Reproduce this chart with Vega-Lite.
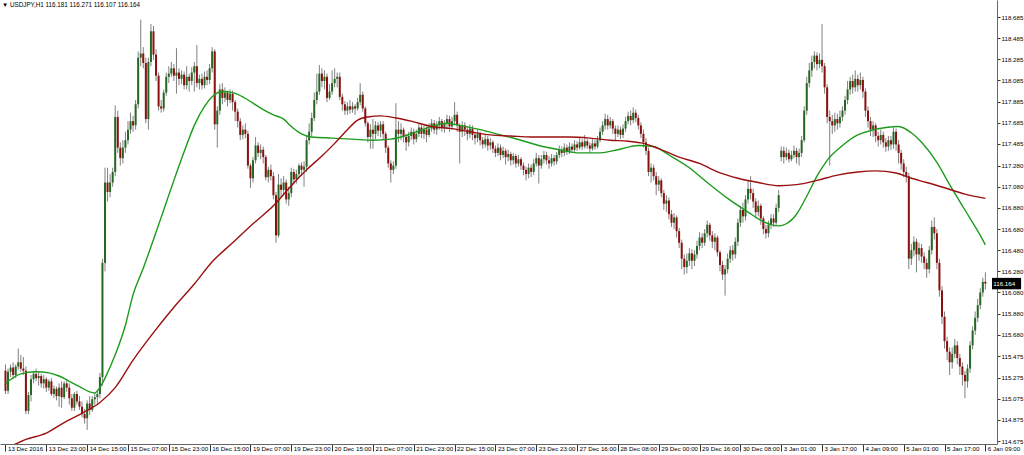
{
"$schema":"https://vega.github.io/schema/vega-lite/v6.json",
"width":997,"height":444,
"autosize":{"type":"none"},
"padding":{"left":0,"top":0,"right":27,"bottom":11},
"background":"white",
"config":{"view":{"stroke":null},"axis":{"grid":false,"labelOverlap":false,"labelFlush":false,"labelBound":false},"font":"Liberation Sans"},
"title":{"text":"▼  USDJPY,H1  116.181 116.271 116.107 116.164","anchor":"start","frame":"group","offset":-8,"fontSize":6.3,"fontWeight":"normal","font":"Liberation Sans","color":"#000","dx":2},
"datasets":{
"candles":[
{"i":0,"o":115.34,"h":115.40,"l":115.12,"c":115.15},
{"i":1,"o":115.15,"h":115.36,"l":115.12,"c":115.33},
{"i":2,"o":115.33,"h":115.40,"l":115.28,"c":115.37},
{"i":3,"o":115.37,"h":115.42,"l":115.26,"c":115.30},
{"i":4,"o":115.30,"h":115.40,"l":115.27,"c":115.38},
{"i":5,"o":115.38,"h":115.55,"l":115.35,"c":115.42},
{"i":6,"o":115.42,"h":115.49,"l":115.33,"c":115.36},
{"i":7,"o":115.36,"h":115.47,"l":115.30,"c":115.34},
{"i":8,"o":115.34,"h":115.38,"l":114.93,"c":114.96},
{"i":9,"o":114.96,"h":115.14,"l":114.93,"c":115.11},
{"i":10,"o":115.11,"h":115.30,"l":115.05,"c":115.26},
{"i":11,"o":115.26,"h":115.34,"l":115.22,"c":115.31},
{"i":12,"o":115.31,"h":115.36,"l":115.24,"c":115.27},
{"i":13,"o":115.27,"h":115.33,"l":115.20,"c":115.29},
{"i":14,"o":115.29,"h":115.31,"l":115.18,"c":115.22},
{"i":15,"o":115.22,"h":115.30,"l":115.17,"c":115.26},
{"i":16,"o":115.26,"h":115.28,"l":115.14,"c":115.18},
{"i":17,"o":115.18,"h":115.26,"l":115.15,"c":115.24},
{"i":18,"o":115.24,"h":115.27,"l":115.10,"c":115.12},
{"i":19,"o":115.12,"h":115.20,"l":115.08,"c":115.17},
{"i":20,"o":115.17,"h":115.19,"l":115.06,"c":115.10},
{"i":21,"o":115.10,"h":115.22,"l":115.00,"c":115.18},
{"i":22,"o":115.18,"h":115.24,"l":114.99,"c":115.09},
{"i":23,"o":115.09,"h":115.24,"l":115.07,"c":115.22},
{"i":24,"o":115.22,"h":115.26,"l":115.14,"c":115.18},
{"i":25,"o":115.18,"h":115.22,"l":115.02,"c":115.08},
{"i":26,"o":115.08,"h":115.12,"l":114.96,"c":114.99},
{"i":27,"o":114.99,"h":115.14,"l":114.96,"c":115.12},
{"i":28,"o":115.12,"h":115.15,"l":115.02,"c":115.05},
{"i":29,"o":115.05,"h":115.10,"l":114.97,"c":115.00},
{"i":30,"o":115.00,"h":115.05,"l":114.90,"c":114.93},
{"i":31,"o":114.93,"h":114.98,"l":114.84,"c":114.89},
{"i":32,"o":114.89,"h":115.06,"l":114.78,"c":115.03},
{"i":33,"o":115.03,"h":115.10,"l":114.92,"c":114.97},
{"i":34,"o":114.97,"h":115.10,"l":114.95,"c":115.07},
{"i":35,"o":115.07,"h":115.13,"l":115.02,"c":115.09},
{"i":36,"o":115.09,"h":115.15,"l":115.03,"c":115.12},
{"i":37,"o":115.12,"h":115.32,"l":115.08,"c":115.28},
{"i":38,"o":115.28,"h":116.40,"l":115.20,"c":116.36},
{"i":39,"o":116.36,"h":117.26,"l":116.28,"c":117.12},
{"i":40,"o":117.12,"h":117.26,"l":116.94,"c":117.03},
{"i":41,"o":117.03,"h":117.20,"l":116.98,"c":117.12},
{"i":42,"o":117.12,"h":117.26,"l":117.08,"c":117.22},
{"i":43,"o":117.22,"h":117.85,"l":117.18,"c":117.74},
{"i":44,"o":117.74,"h":117.80,"l":117.40,"c":117.45},
{"i":45,"o":117.45,"h":117.50,"l":117.28,"c":117.35},
{"i":46,"o":117.35,"h":117.52,"l":117.30,"c":117.45},
{"i":47,"o":117.45,"h":117.60,"l":117.40,"c":117.52},
{"i":48,"o":117.52,"h":117.70,"l":117.48,"c":117.62},
{"i":49,"o":117.62,"h":117.78,"l":117.58,"c":117.70},
{"i":50,"o":117.70,"h":117.75,"l":117.60,"c":117.66},
{"i":51,"o":117.66,"h":117.90,"l":117.62,"c":117.86},
{"i":52,"o":117.86,"h":118.36,"l":117.82,"c":118.30},
{"i":53,"o":118.30,"h":118.66,"l":118.22,"c":118.34},
{"i":54,"o":118.34,"h":118.40,"l":118.20,"c":118.25},
{"i":55,"o":118.25,"h":118.30,"l":117.68,"c":117.72},
{"i":56,"o":117.72,"h":118.30,"l":117.62,"c":118.26},
{"i":57,"o":118.26,"h":118.62,"l":118.22,"c":118.55},
{"i":58,"o":118.55,"h":118.60,"l":118.28,"c":118.33},
{"i":59,"o":118.33,"h":118.38,"l":118.08,"c":118.13},
{"i":60,"o":118.13,"h":118.16,"l":117.80,"c":117.84},
{"i":61,"o":117.84,"h":117.90,"l":117.78,"c":117.82},
{"i":62,"o":117.82,"h":118.00,"l":117.79,"c":117.97},
{"i":63,"o":117.97,"h":118.16,"l":117.94,"c":118.12},
{"i":64,"o":118.12,"h":118.22,"l":118.06,"c":118.15},
{"i":65,"o":118.15,"h":118.26,"l":118.12,"c":118.20},
{"i":66,"o":118.20,"h":118.24,"l":118.08,"c":118.13},
{"i":67,"o":118.13,"h":118.39,"l":117.96,"c":118.16},
{"i":68,"o":118.16,"h":118.20,"l":118.04,"c":118.10},
{"i":69,"o":118.10,"h":118.18,"l":118.05,"c":118.14},
{"i":70,"o":118.14,"h":118.17,"l":118.00,"c":118.04},
{"i":71,"o":118.04,"h":118.22,"l":118.00,"c":118.12},
{"i":72,"o":118.12,"h":118.15,"l":117.98,"c":118.08},
{"i":73,"o":118.08,"h":118.21,"l":118.04,"c":118.16},
{"i":74,"o":118.16,"h":118.26,"l":117.98,"c":118.22},
{"i":75,"o":118.22,"h":118.42,"l":118.02,"c":118.06},
{"i":76,"o":118.06,"h":118.14,"l":118.00,"c":118.10},
{"i":77,"o":118.10,"h":118.15,"l":118.00,"c":118.04},
{"i":78,"o":118.04,"h":118.17,"l":118.01,"c":118.12},
{"i":79,"o":118.12,"h":118.18,"l":118.04,"c":118.09},
{"i":80,"o":118.09,"h":118.24,"l":118.05,"c":118.20},
{"i":81,"o":118.20,"h":118.40,"l":118.16,"c":118.36},
{"i":82,"o":118.36,"h":118.38,"l":117.62,"c":117.67},
{"i":83,"o":117.67,"h":117.84,"l":117.45,"c":117.80},
{"i":84,"o":117.80,"h":118.05,"l":117.76,"c":118.00},
{"i":85,"o":118.00,"h":118.06,"l":117.86,"c":117.92},
{"i":86,"o":117.92,"h":118.02,"l":117.88,"c":117.97},
{"i":87,"o":117.97,"h":117.99,"l":117.84,"c":117.90},
{"i":88,"o":117.90,"h":118.00,"l":117.87,"c":117.96},
{"i":89,"o":117.96,"h":117.99,"l":117.80,"c":117.88},
{"i":90,"o":117.88,"h":117.90,"l":117.70,"c":117.79},
{"i":91,"o":117.79,"h":117.82,"l":117.64,"c":117.70},
{"i":92,"o":117.70,"h":117.73,"l":117.52,"c":117.57},
{"i":93,"o":117.57,"h":117.66,"l":117.53,"c":117.62},
{"i":94,"o":117.62,"h":117.68,"l":117.54,"c":117.58},
{"i":95,"o":117.58,"h":117.61,"l":117.25,"c":117.28},
{"i":96,"o":117.28,"h":117.30,"l":117.07,"c":117.16},
{"i":97,"o":117.16,"h":117.36,"l":117.12,"c":117.33},
{"i":98,"o":117.33,"h":117.55,"l":117.30,"c":117.47},
{"i":99,"o":117.47,"h":117.50,"l":117.36,"c":117.40},
{"i":100,"o":117.40,"h":117.48,"l":117.34,"c":117.43},
{"i":101,"o":117.43,"h":117.46,"l":117.30,"c":117.36},
{"i":102,"o":117.36,"h":117.38,"l":117.14,"c":117.17},
{"i":103,"o":117.17,"h":117.27,"l":117.12,"c":117.24},
{"i":104,"o":117.24,"h":117.29,"l":117.14,"c":117.18},
{"i":105,"o":117.18,"h":117.22,"l":116.96,"c":117.00},
{"i":106,"o":117.00,"h":117.03,"l":116.55,"c":116.62},
{"i":107,"o":116.62,"h":117.20,"l":116.60,"c":117.10},
{"i":108,"o":117.10,"h":117.16,"l":116.98,"c":117.05},
{"i":109,"o":117.05,"h":117.18,"l":117.00,"c":117.12},
{"i":110,"o":117.12,"h":117.15,"l":116.92,"c":116.96},
{"i":111,"o":116.96,"h":117.08,"l":116.90,"c":117.02},
{"i":112,"o":117.02,"h":117.26,"l":116.98,"c":117.22},
{"i":113,"o":117.22,"h":117.25,"l":117.10,"c":117.15},
{"i":114,"o":117.15,"h":117.24,"l":117.11,"c":117.20},
{"i":115,"o":117.20,"h":117.30,"l":117.16,"c":117.28},
{"i":116,"o":117.28,"h":117.31,"l":117.18,"c":117.24},
{"i":117,"o":117.24,"h":117.32,"l":117.08,"c":117.27},
{"i":118,"o":117.27,"h":117.56,"l":117.22,"c":117.52},
{"i":119,"o":117.52,"h":117.68,"l":117.48,"c":117.60},
{"i":120,"o":117.60,"h":117.78,"l":117.56,"c":117.73},
{"i":121,"o":117.73,"h":117.97,"l":117.70,"c":117.90},
{"i":122,"o":117.90,"h":118.15,"l":117.86,"c":117.98},
{"i":123,"o":117.98,"h":118.23,"l":117.95,"c":118.15},
{"i":124,"o":118.15,"h":118.20,"l":118.02,"c":118.08},
{"i":125,"o":118.08,"h":118.18,"l":118.00,"c":118.12},
{"i":126,"o":118.12,"h":118.15,"l":117.88,"c":117.92},
{"i":127,"o":117.92,"h":118.05,"l":117.90,"c":117.98},
{"i":128,"o":117.98,"h":118.18,"l":117.95,"c":118.06},
{"i":129,"o":118.06,"h":118.20,"l":118.02,"c":118.10},
{"i":130,"o":118.10,"h":118.16,"l":118.02,"c":118.12},
{"i":131,"o":118.12,"h":118.16,"l":117.90,"c":117.93},
{"i":132,"o":117.93,"h":117.96,"l":117.80,"c":117.86},
{"i":133,"o":117.86,"h":117.89,"l":117.76,"c":117.80},
{"i":134,"o":117.80,"h":117.88,"l":117.76,"c":117.84},
{"i":135,"o":117.84,"h":117.90,"l":117.77,"c":117.81},
{"i":136,"o":117.81,"h":117.88,"l":117.78,"c":117.84},
{"i":137,"o":117.84,"h":117.86,"l":117.76,"c":117.82},
{"i":138,"o":117.82,"h":117.92,"l":117.80,"c":117.88},
{"i":139,"o":117.88,"h":118.06,"l":117.85,"c":117.95},
{"i":140,"o":117.95,"h":117.98,"l":117.79,"c":117.82},
{"i":141,"o":117.82,"h":117.84,"l":117.65,"c":117.68},
{"i":142,"o":117.68,"h":117.70,"l":117.50,"c":117.55},
{"i":143,"o":117.55,"h":117.67,"l":117.44,"c":117.62},
{"i":144,"o":117.62,"h":117.72,"l":117.44,"c":117.58},
{"i":145,"o":117.58,"h":117.70,"l":117.53,"c":117.66},
{"i":146,"o":117.66,"h":117.69,"l":117.56,"c":117.61},
{"i":147,"o":117.61,"h":117.70,"l":117.55,"c":117.67},
{"i":148,"o":117.67,"h":117.70,"l":117.52,"c":117.58},
{"i":149,"o":117.58,"h":117.60,"l":117.40,"c":117.45},
{"i":150,"o":117.45,"h":117.47,"l":117.26,"c":117.30},
{"i":151,"o":117.30,"h":117.33,"l":117.12,"c":117.24},
{"i":152,"o":117.24,"h":117.32,"l":117.20,"c":117.28},
{"i":153,"o":117.28,"h":117.87,"l":117.25,"c":117.62},
{"i":154,"o":117.62,"h":117.70,"l":117.50,"c":117.58},
{"i":155,"o":117.58,"h":117.68,"l":117.52,"c":117.62},
{"i":156,"o":117.62,"h":117.64,"l":117.50,"c":117.55},
{"i":157,"o":117.55,"h":117.58,"l":117.42,"c":117.50},
{"i":158,"o":117.50,"h":117.60,"l":117.46,"c":117.56},
{"i":159,"o":117.56,"h":117.64,"l":117.52,"c":117.60},
{"i":160,"o":117.60,"h":117.63,"l":117.48,"c":117.53},
{"i":161,"o":117.53,"h":117.62,"l":117.50,"c":117.58},
{"i":162,"o":117.58,"h":117.68,"l":117.55,"c":117.64},
{"i":163,"o":117.64,"h":117.67,"l":117.54,"c":117.58},
{"i":164,"o":117.58,"h":117.66,"l":117.53,"c":117.62},
{"i":165,"o":117.62,"h":117.65,"l":117.50,"c":117.57},
{"i":166,"o":117.57,"h":117.68,"l":117.55,"c":117.63},
{"i":167,"o":117.63,"h":117.72,"l":117.60,"c":117.68},
{"i":168,"o":117.68,"h":117.71,"l":117.58,"c":117.62},
{"i":169,"o":117.62,"h":117.70,"l":117.57,"c":117.66},
{"i":170,"o":117.66,"h":117.74,"l":117.62,"c":117.70},
{"i":171,"o":117.70,"h":117.72,"l":117.60,"c":117.64},
{"i":172,"o":117.64,"h":117.71,"l":117.59,"c":117.68},
{"i":173,"o":117.68,"h":117.76,"l":117.63,"c":117.72},
{"i":174,"o":117.72,"h":117.75,"l":117.60,"c":117.65},
{"i":175,"o":117.65,"h":117.74,"l":117.62,"c":117.70},
{"i":176,"o":117.70,"h":117.88,"l":117.66,"c":117.76},
{"i":177,"o":117.76,"h":117.79,"l":117.60,"c":117.66},
{"i":178,"o":117.66,"h":117.68,"l":117.30,"c":117.60},
{"i":179,"o":117.60,"h":117.70,"l":117.55,"c":117.66},
{"i":180,"o":117.66,"h":117.69,"l":117.56,"c":117.62},
{"i":181,"o":117.62,"h":117.65,"l":117.52,"c":117.58},
{"i":182,"o":117.58,"h":117.67,"l":117.54,"c":117.63},
{"i":183,"o":117.63,"h":117.66,"l":117.52,"c":117.57},
{"i":184,"o":117.57,"h":117.60,"l":117.48,"c":117.54},
{"i":185,"o":117.54,"h":117.62,"l":117.50,"c":117.58},
{"i":186,"o":117.58,"h":117.60,"l":117.47,"c":117.52},
{"i":187,"o":117.52,"h":117.55,"l":117.44,"c":117.48},
{"i":188,"o":117.48,"h":117.57,"l":117.45,"c":117.53},
{"i":189,"o":117.53,"h":117.56,"l":117.42,"c":117.47},
{"i":190,"o":117.47,"h":117.54,"l":117.43,"c":117.50},
{"i":191,"o":117.50,"h":117.52,"l":117.40,"c":117.44},
{"i":192,"o":117.44,"h":117.47,"l":117.36,"c":117.40},
{"i":193,"o":117.40,"h":117.49,"l":117.37,"c":117.45},
{"i":194,"o":117.45,"h":117.48,"l":117.33,"c":117.38},
{"i":195,"o":117.38,"h":117.46,"l":117.35,"c":117.42},
{"i":196,"o":117.42,"h":117.44,"l":117.29,"c":117.36},
{"i":197,"o":117.36,"h":117.43,"l":117.32,"c":117.39},
{"i":198,"o":117.39,"h":117.41,"l":117.28,"c":117.33},
{"i":199,"o":117.33,"h":117.40,"l":117.29,"c":117.37},
{"i":200,"o":117.37,"h":117.39,"l":117.26,"c":117.30},
{"i":201,"o":117.30,"h":117.38,"l":117.27,"c":117.34},
{"i":202,"o":117.34,"h":117.36,"l":117.24,"c":117.28},
{"i":203,"o":117.28,"h":117.31,"l":117.19,"c":117.24},
{"i":204,"o":117.24,"h":117.27,"l":117.14,"c":117.20},
{"i":205,"o":117.20,"h":117.30,"l":117.16,"c":117.26},
{"i":206,"o":117.26,"h":117.29,"l":117.17,"c":117.22},
{"i":207,"o":117.22,"h":117.34,"l":117.19,"c":117.30},
{"i":208,"o":117.30,"h":117.40,"l":117.27,"c":117.35},
{"i":209,"o":117.35,"h":117.38,"l":117.11,"c":117.28},
{"i":210,"o":117.28,"h":117.38,"l":117.25,"c":117.34},
{"i":211,"o":117.34,"h":117.42,"l":117.30,"c":117.38},
{"i":212,"o":117.38,"h":117.41,"l":117.29,"c":117.33},
{"i":213,"o":117.33,"h":117.37,"l":117.25,"c":117.30},
{"i":214,"o":117.30,"h":117.39,"l":117.27,"c":117.35},
{"i":215,"o":117.35,"h":117.38,"l":117.28,"c":117.32},
{"i":216,"o":117.32,"h":117.41,"l":117.29,"c":117.38},
{"i":217,"o":117.38,"h":117.47,"l":117.35,"c":117.43},
{"i":218,"o":117.43,"h":117.46,"l":117.36,"c":117.40},
{"i":219,"o":117.40,"h":117.49,"l":117.37,"c":117.45},
{"i":220,"o":117.45,"h":117.48,"l":117.38,"c":117.41},
{"i":221,"o":117.41,"h":117.50,"l":117.39,"c":117.46},
{"i":222,"o":117.46,"h":117.49,"l":117.40,"c":117.43},
{"i":223,"o":117.43,"h":117.52,"l":117.41,"c":117.48},
{"i":224,"o":117.48,"h":117.51,"l":117.42,"c":117.45},
{"i":225,"o":117.45,"h":117.54,"l":117.43,"c":117.50},
{"i":226,"o":117.50,"h":117.53,"l":117.43,"c":117.46},
{"i":227,"o":117.46,"h":117.57,"l":117.44,"c":117.51},
{"i":228,"o":117.51,"h":117.53,"l":117.44,"c":117.47},
{"i":229,"o":117.47,"h":117.50,"l":117.40,"c":117.44},
{"i":230,"o":117.44,"h":117.53,"l":117.42,"c":117.49},
{"i":231,"o":117.49,"h":117.52,"l":117.43,"c":117.46},
{"i":232,"o":117.46,"h":117.56,"l":117.44,"c":117.52},
{"i":233,"o":117.52,"h":117.64,"l":117.50,"c":117.60},
{"i":234,"o":117.60,"h":117.70,"l":117.57,"c":117.66},
{"i":235,"o":117.66,"h":117.77,"l":117.62,"c":117.72},
{"i":236,"o":117.72,"h":117.76,"l":117.62,"c":117.66},
{"i":237,"o":117.66,"h":117.74,"l":117.63,"c":117.70},
{"i":238,"o":117.70,"h":117.72,"l":117.58,"c":117.63},
{"i":239,"o":117.63,"h":117.66,"l":117.52,"c":117.58},
{"i":240,"o":117.58,"h":117.66,"l":117.55,"c":117.62},
{"i":241,"o":117.62,"h":117.65,"l":117.53,"c":117.57},
{"i":242,"o":117.57,"h":117.67,"l":117.54,"c":117.63},
{"i":243,"o":117.63,"h":117.74,"l":117.60,"c":117.70},
{"i":244,"o":117.70,"h":117.79,"l":117.67,"c":117.75},
{"i":245,"o":117.75,"h":117.80,"l":117.66,"c":117.71},
{"i":246,"o":117.71,"h":117.83,"l":117.68,"c":117.78},
{"i":247,"o":117.78,"h":117.81,"l":117.69,"c":117.73},
{"i":248,"o":117.73,"h":117.76,"l":117.62,"c":117.66},
{"i":249,"o":117.66,"h":117.69,"l":117.54,"c":117.58},
{"i":250,"o":117.58,"h":117.62,"l":117.45,"c":117.50},
{"i":251,"o":117.50,"h":117.54,"l":117.38,"c":117.42},
{"i":252,"o":117.42,"h":117.45,"l":117.18,"c":117.22},
{"i":253,"o":117.22,"h":117.30,"l":117.12,"c":117.26},
{"i":254,"o":117.26,"h":117.29,"l":117.14,"c":117.18},
{"i":255,"o":117.18,"h":117.22,"l":117.00,"c":117.10},
{"i":256,"o":117.10,"h":117.18,"l":117.04,"c":117.14},
{"i":257,"o":117.14,"h":117.16,"l":116.98,"c":117.02},
{"i":258,"o":117.02,"h":117.05,"l":116.86,"c":116.92},
{"i":259,"o":116.92,"h":117.00,"l":116.84,"c":116.95},
{"i":260,"o":116.95,"h":116.98,"l":116.77,"c":116.82},
{"i":261,"o":116.82,"h":116.86,"l":116.70,"c":116.74},
{"i":262,"o":116.74,"h":116.83,"l":116.68,"c":116.79},
{"i":263,"o":116.79,"h":116.81,"l":116.60,"c":116.66},
{"i":264,"o":116.66,"h":116.69,"l":116.50,"c":116.55},
{"i":265,"o":116.55,"h":116.58,"l":116.30,"c":116.40},
{"i":266,"o":116.40,"h":116.44,"l":116.25,"c":116.32},
{"i":267,"o":116.32,"h":116.45,"l":116.26,"c":116.38},
{"i":268,"o":116.38,"h":116.50,"l":116.33,"c":116.45},
{"i":269,"o":116.45,"h":116.49,"l":116.30,"c":116.38},
{"i":270,"o":116.38,"h":116.48,"l":116.33,"c":116.44},
{"i":271,"o":116.44,"h":116.57,"l":116.40,"c":116.52},
{"i":272,"o":116.52,"h":116.65,"l":116.48,"c":116.60},
{"i":273,"o":116.60,"h":116.64,"l":116.50,"c":116.55},
{"i":274,"o":116.55,"h":116.68,"l":116.52,"c":116.64},
{"i":275,"o":116.64,"h":116.76,"l":116.60,"c":116.72},
{"i":276,"o":116.72,"h":116.74,"l":116.57,"c":116.62},
{"i":277,"o":116.62,"h":116.66,"l":116.50,"c":116.56},
{"i":278,"o":116.56,"h":116.64,"l":116.48,"c":116.60},
{"i":279,"o":116.60,"h":116.62,"l":116.42,"c":116.46},
{"i":280,"o":116.46,"h":116.48,"l":116.28,"c":116.34},
{"i":281,"o":116.34,"h":116.38,"l":116.20,"c":116.25},
{"i":282,"o":116.25,"h":116.34,"l":116.05,"c":116.30},
{"i":283,"o":116.30,"h":116.45,"l":116.26,"c":116.40},
{"i":284,"o":116.40,"h":116.52,"l":116.36,"c":116.48},
{"i":285,"o":116.48,"h":116.53,"l":116.38,"c":116.44},
{"i":286,"o":116.44,"h":116.60,"l":116.40,"c":116.56},
{"i":287,"o":116.56,"h":116.78,"l":116.52,"c":116.74},
{"i":288,"o":116.74,"h":116.90,"l":116.70,"c":116.86},
{"i":289,"o":116.86,"h":116.93,"l":116.74,"c":116.80},
{"i":290,"o":116.80,"h":117.00,"l":116.76,"c":116.96},
{"i":291,"o":116.96,"h":117.14,"l":116.92,"c":117.06},
{"i":292,"o":117.06,"h":117.18,"l":116.96,"c":117.02},
{"i":293,"o":117.02,"h":117.06,"l":116.88,"c":116.94},
{"i":294,"o":116.94,"h":116.97,"l":116.78,"c":116.84},
{"i":295,"o":116.84,"h":116.95,"l":116.80,"c":116.90},
{"i":296,"o":116.90,"h":116.92,"l":116.72,"c":116.78},
{"i":297,"o":116.78,"h":116.80,"l":116.63,"c":116.68},
{"i":298,"o":116.68,"h":116.72,"l":116.59,"c":116.64},
{"i":299,"o":116.64,"h":116.76,"l":116.60,"c":116.72},
{"i":300,"o":116.72,"h":116.82,"l":116.68,"c":116.78},
{"i":301,"o":116.78,"h":116.82,"l":116.70,"c":116.74},
{"i":302,"o":116.74,"h":116.92,"l":116.72,"c":116.88},
{"i":303,"o":116.88,"h":117.05,"l":116.84,"c":117.00},
{"i":304,"o":117.36,"h":117.46,"l":117.32,"c":117.42},
{"i":305,"o":117.42,"h":117.46,"l":117.30,"c":117.36},
{"i":306,"o":117.36,"h":117.45,"l":117.33,"c":117.40},
{"i":307,"o":117.40,"h":117.43,"l":117.31,"c":117.34},
{"i":308,"o":117.34,"h":117.42,"l":117.32,"c":117.38},
{"i":309,"o":117.38,"h":117.47,"l":117.35,"c":117.42},
{"i":310,"o":117.42,"h":117.45,"l":117.30,"c":117.36},
{"i":311,"o":117.36,"h":117.44,"l":117.28,"c":117.40},
{"i":312,"o":117.40,"h":117.56,"l":117.36,"c":117.52},
{"i":313,"o":117.52,"h":117.84,"l":117.50,"c":117.80},
{"i":314,"o":117.80,"h":118.12,"l":117.76,"c":118.06},
{"i":315,"o":118.06,"h":118.25,"l":118.02,"c":118.18},
{"i":316,"o":118.18,"h":118.32,"l":118.12,"c":118.26},
{"i":317,"o":118.26,"h":118.36,"l":118.20,"c":118.32},
{"i":318,"o":118.32,"h":118.35,"l":118.18,"c":118.24},
{"i":319,"o":118.24,"h":118.34,"l":118.20,"c":118.28},
{"i":320,"o":118.28,"h":118.62,"l":118.16,"c":118.22},
{"i":321,"o":118.22,"h":118.25,"l":117.96,"c":118.02},
{"i":322,"o":118.02,"h":118.05,"l":117.68,"c":117.74},
{"i":323,"o":117.74,"h":117.80,"l":117.28,"c":117.70},
{"i":324,"o":117.70,"h":117.76,"l":117.58,"c":117.66},
{"i":325,"o":117.66,"h":117.78,"l":117.60,"c":117.72},
{"i":326,"o":117.72,"h":117.77,"l":117.62,"c":117.68},
{"i":327,"o":117.68,"h":117.80,"l":117.64,"c":117.74},
{"i":328,"o":117.74,"h":117.84,"l":117.70,"c":117.80},
{"i":329,"o":117.80,"h":117.94,"l":117.76,"c":117.90},
{"i":330,"o":117.90,"h":118.08,"l":117.86,"c":118.00},
{"i":331,"o":118.00,"h":118.12,"l":117.95,"c":118.08},
{"i":332,"o":118.08,"h":118.14,"l":117.96,"c":118.02},
{"i":333,"o":118.02,"h":118.18,"l":117.98,"c":118.10},
{"i":334,"o":118.10,"h":118.14,"l":117.98,"c":118.04},
{"i":335,"o":118.04,"h":118.16,"l":118.00,"c":118.09},
{"i":336,"o":118.09,"h":118.12,"l":117.92,"c":117.98},
{"i":337,"o":117.98,"h":118.01,"l":117.74,"c":117.80},
{"i":338,"o":117.80,"h":117.84,"l":117.64,"c":117.70},
{"i":339,"o":117.70,"h":117.74,"l":117.56,"c":117.62},
{"i":340,"o":117.62,"h":117.70,"l":117.55,"c":117.66},
{"i":341,"o":117.66,"h":117.68,"l":117.50,"c":117.56},
{"i":342,"o":117.56,"h":117.60,"l":117.46,"c":117.52},
{"i":343,"o":117.52,"h":117.62,"l":117.48,"c":117.57},
{"i":344,"o":117.57,"h":117.60,"l":117.45,"c":117.50},
{"i":345,"o":117.50,"h":117.54,"l":117.41,"c":117.46},
{"i":346,"o":117.46,"h":117.56,"l":117.42,"c":117.52},
{"i":347,"o":117.52,"h":117.56,"l":117.43,"c":117.48},
{"i":348,"o":117.48,"h":117.64,"l":117.44,"c":117.60},
{"i":349,"o":117.60,"h":117.63,"l":117.42,"c":117.48},
{"i":350,"o":117.48,"h":117.52,"l":117.30,"c":117.40},
{"i":351,"o":117.40,"h":117.43,"l":117.24,"c":117.30},
{"i":352,"o":117.30,"h":117.34,"l":117.17,"c":117.22},
{"i":353,"o":117.22,"h":117.27,"l":117.12,"c":117.18},
{"i":354,"o":117.18,"h":117.21,"l":116.30,"c":116.40},
{"i":355,"o":116.40,"h":116.54,"l":116.34,"c":116.48},
{"i":356,"o":116.48,"h":116.61,"l":116.42,"c":116.56},
{"i":357,"o":116.56,"h":116.59,"l":116.27,"c":116.44},
{"i":358,"o":116.44,"h":116.55,"l":116.38,"c":116.50},
{"i":359,"o":116.50,"h":116.54,"l":116.36,"c":116.42},
{"i":360,"o":116.42,"h":116.46,"l":116.30,"c":116.36},
{"i":361,"o":116.36,"h":116.40,"l":116.22,"c":116.30},
{"i":362,"o":116.30,"h":116.52,"l":116.26,"c":116.48},
{"i":363,"o":116.48,"h":116.76,"l":116.44,"c":116.70},
{"i":364,"o":116.70,"h":116.79,"l":116.58,"c":116.64},
{"i":365,"o":116.64,"h":116.68,"l":116.30,"c":116.36},
{"i":366,"o":116.36,"h":116.40,"l":116.04,"c":116.10},
{"i":367,"o":116.10,"h":116.14,"l":115.78,"c":115.85},
{"i":368,"o":115.85,"h":115.90,"l":115.55,"c":115.62},
{"i":369,"o":115.62,"h":115.66,"l":115.44,"c":115.52},
{"i":370,"o":115.52,"h":115.56,"l":115.30,"c":115.42},
{"i":371,"o":115.42,"h":115.56,"l":115.36,"c":115.50},
{"i":372,"o":115.50,"h":115.64,"l":115.46,"c":115.58},
{"i":373,"o":115.58,"h":115.62,"l":115.40,"c":115.46},
{"i":374,"o":115.46,"h":115.50,"l":115.30,"c":115.38},
{"i":375,"o":115.38,"h":115.42,"l":115.20,"c":115.30},
{"i":376,"o":115.30,"h":115.34,"l":115.08,"c":115.24},
{"i":377,"o":115.24,"h":115.40,"l":115.18,"c":115.36},
{"i":378,"o":115.36,"h":115.62,"l":115.32,"c":115.58},
{"i":379,"o":115.58,"h":115.76,"l":115.54,"c":115.72},
{"i":380,"o":115.72,"h":115.90,"l":115.68,"c":115.84},
{"i":381,"o":115.84,"h":116.02,"l":115.80,"c":115.96},
{"i":382,"o":115.96,"h":116.12,"l":115.92,"c":116.08},
{"i":383,"o":116.08,"h":116.22,"l":116.04,"c":116.18},
{"i":384,"o":116.181,"h":116.271,"l":116.107,"c":116.164}
],
"fast":[
{"i":0,"v":115.22},{"i":6,"v":115.31},{"i":12,"v":115.33},{"i":17,"v":115.32},{"i":21,"v":115.29},{"i":25,"v":115.24},{"i":29,"v":115.19},{"i":33,"v":115.14},{"i":35,"v":115.13},{"i":37,"v":115.18},{"i":39,"v":115.27},{"i":43,"v":115.49},{"i":47,"v":115.77},{"i":50,"v":116.06},{"i":54,"v":116.31},{"i":58,"v":116.58},{"i":62,"v":116.86},{"i":66,"v":117.14},{"i":70,"v":117.41},{"i":74,"v":117.66},{"i":78,"v":117.84},{"i":81,"v":117.93},{"i":85,"v":117.98},{"i":89,"v":117.97},{"i":93,"v":117.93},{"i":97,"v":117.87},{"i":101,"v":117.81},{"i":105,"v":117.76},{"i":109,"v":117.72},{"i":112,"v":117.65},{"i":116,"v":117.58},{"i":120,"v":117.55},{"i":128,"v":117.54},{"i":136,"v":117.53},{"i":144,"v":117.52},{"i":151,"v":117.53},{"i":159,"v":117.58},{"i":167,"v":117.65},{"i":173,"v":117.68},{"i":178,"v":117.66},{"i":186,"v":117.62},{"i":194,"v":117.57},{"i":202,"v":117.52},{"i":209,"v":117.47},{"i":217,"v":117.43},{"i":225,"v":117.40},{"i":233,"v":117.40},{"i":240,"v":117.43},{"i":248,"v":117.47},{"i":254,"v":117.46},{"i":260,"v":117.38},{"i":268,"v":117.26},{"i":275,"v":117.12},{"i":283,"v":116.97},{"i":291,"v":116.84},{"i":297,"v":116.75},{"i":303,"v":116.71},{"i":306,"v":116.73},{"i":310,"v":116.82},{"i":314,"v":116.99},{"i":318,"v":117.18},{"i":322,"v":117.33},{"i":328,"v":117.47},{"i":334,"v":117.57},{"i":339,"v":117.61},{"i":345,"v":117.64},{"i":350,"v":117.65},{"i":355,"v":117.59},{"i":359,"v":117.50},{"i":365,"v":117.31},{"i":370,"v":117.10},{"i":376,"v":116.86},{"i":382,"v":116.62},{"i":384,"v":116.53}
],
"slow":[
{"i":0,"v":114.60},{"i":8,"v":114.69},{"i":16,"v":114.75},{"i":23,"v":114.85},{"i":31,"v":114.95},{"i":37,"v":115.04},{"i":43,"v":115.18},{"i":50,"v":115.44},{"i":58,"v":115.70},{"i":66,"v":115.94},{"i":74,"v":116.16},{"i":81,"v":116.37},{"i":89,"v":116.55},{"i":97,"v":116.73},{"i":105,"v":116.90},{"i":112,"v":117.09},{"i":118,"v":117.24},{"i":124,"v":117.37},{"i":129,"v":117.49},{"i":134,"v":117.62},{"i":138,"v":117.71},{"i":142,"v":117.74},{"i":147,"v":117.75},{"i":153,"v":117.73},{"i":159,"v":117.70},{"i":167,"v":117.65},{"i":175,"v":117.63},{"i":182,"v":117.60},{"i":190,"v":117.57},{"i":198,"v":117.56},{"i":206,"v":117.55},{"i":213,"v":117.55},{"i":221,"v":117.55},{"i":229,"v":117.54},{"i":237,"v":117.52},{"i":244,"v":117.51},{"i":250,"v":117.49},{"i":256,"v":117.44},{"i":264,"v":117.36},{"i":272,"v":117.30},{"i":279,"v":117.22},{"i":287,"v":117.16},{"i":295,"v":117.12},{"i":303,"v":117.09},{"i":310,"v":117.10},{"i":318,"v":117.14},{"i":326,"v":117.19},{"i":334,"v":117.22},{"i":341,"v":117.23},{"i":349,"v":117.21},{"i":355,"v":117.16},{"i":361,"v":117.12},{"i":368,"v":117.07},{"i":376,"v":117.01},{"i":384,"v":116.97}
],
"last":[{"p":116.164,"top":116.218,"bot":116.11,"x1":386.6,"x2":398,"tx":387.1,"label":"116.164"}]
},
"layer":[
{"data":{"name":"candles"},
 "mark":{"type":"rule","color":"#808080","strokeWidth":1},
 "encoding":{
  "x":{"field":"i","type":"quantitative","scale":{"domain":[-0.19,386.6],"nice":false,"zero":false},
   "axis":{"orient":"bottom","values":[0,16,32,48,64,80,96,112,128,144,160,176,192,208,224,240,256,272,288,304,320,336,352,368,384],"tickCount":40,
    "labelExpr":"['13 Dec 2016','13 Dec 23:00','14 Dec 15:00','15 Dec 07:00','15 Dec 23:00','16 Dec 15:00','19 Dec 07:00','19 Dec 23:00','20 Dec 15:00','21 Dec 07:00','21 Dec 23:00','22 Dec 15:00','23 Dec 07:00','23 Dec 23:00','27 Dec 16:00','28 Dec 08:00','29 Dec 00:00','29 Dec 16:00','30 Dec 08:00','3 Jan 01:00','3 Jan 17:00','4 Jan 09:00','5 Jan 01:00','5 Jan 17:00','6 Jan 09:00'][round(datum.value/16)]",
    "title":null,"labelAlign":"left","labelBaseline":"top","labelOffset":2,"labelPadding":-6,"tickSize":7,"tickColor":"#333","domainColor":"#666","labelFontSize":6.2,"labelColor":"#000","labelOverlap":false,"labelFlush":false,"labelFont":"Liberation Sans"}},
  "y":{"field":"l","type":"quantitative","scale":{"domain":[114.647,118.846],"nice":false,"zero":false},
   "axis":{"orient":"right","values":[114.675,114.875,115.075,115.275,115.475,115.68,115.88,116.08,116.28,116.48,116.68,116.88,117.08,117.28,117.485,117.685,117.885,118.085,118.285,118.485,118.685],"tickCount":40,
    "format":".3f","title":null,"tickSize":3,"labelPadding":1,"tickColor":"#333","domainColor":"#666","labelFontSize":6.2,"labelColor":"#000","labelOverlap":false,"labelFlush":false,"labelLimit":0,"labelSeparation":0,"labelFont":"Liberation Sans"}},
  "y2":{"field":"h"}}},
{"data":{"name":"candles"},
 "mark":{"type":"bar","size":2},
 "encoding":{
  "x":{"field":"i","type":"quantitative","scale":{"domain":[-0.19,386.6],"nice":false,"zero":false}},
  "y":{"field":"o","type":"quantitative","scale":{"domain":[114.647,118.846],"nice":false,"zero":false}},
  "y2":{"field":"c"},
  "color":{"condition":{"test":"datum.c >= datum.o","value":"#236823"},"value":"#8a0f0f"}}},
{"data":{"name":"fast"},
 "mark":{"type":"line","color":"#1c9c1c","strokeWidth":1.4,"interpolate":"monotone","clip":true},
 "encoding":{
  "x":{"field":"i","type":"quantitative","scale":{"domain":[-0.19,386.6],"nice":false,"zero":false}},
  "y":{"field":"v","type":"quantitative","scale":{"domain":[114.647,118.846],"nice":false,"zero":false}}}},
{"data":{"name":"slow"},
 "mark":{"type":"line","color":"#9b0f0f","strokeWidth":1.4,"interpolate":"monotone","clip":true},
 "encoding":{
  "x":{"field":"i","type":"quantitative","scale":{"domain":[-0.19,386.6],"nice":false,"zero":false}},
  "y":{"field":"v","type":"quantitative","scale":{"domain":[114.647,118.846],"nice":false,"zero":false}}}},
{"data":{"name":"last"},
 "mark":{"type":"rect","color":"#000"},
 "encoding":{
  "x":{"field":"x1","type":"quantitative"},"x2":{"field":"x2"},
  "y":{"field":"top","type":"quantitative"},"y2":{"field":"bot"}}},
{"data":{"name":"last"},
 "mark":{"type":"text","color":"#fff","align":"left","baseline":"middle","fontSize":6.2,"font":"Liberation Sans"},
 "encoding":{
  "x":{"field":"tx","type":"quantitative"},
  "y":{"field":"p","type":"quantitative"},
  "text":{"field":"label"}}}
]
}
